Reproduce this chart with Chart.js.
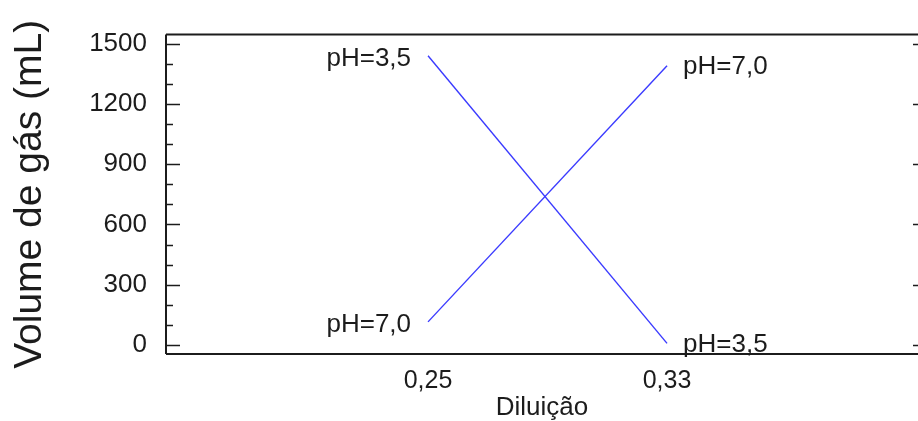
<!DOCTYPE html>
<html>
<head>
<meta charset="utf-8">
<script src="https://cdn.jsdelivr.net/npm/chart.js@4.4.0/dist/chart.umd.min.js"></script>
<style>
  html, body { margin: 0; padding: 0; background: #fff; }
  #wrap { width: 918px; height: 421px; position: relative; }
</style>
</head>
<body>
<div id="wrap"><canvas id="gas"></canvas></div>
<script>
// dilution factor on x, gas volume (mL) on y
const dilutions = [0.25, 0.33]
const volumePH35 = [1440, 8]
const volumePH70 = [115, 1390]
const seriesNames = ['pH=3,5', 'pH=7,0']
const xTicks = [0.25, 0.33]
const yTicks = [0, 300, 600, 900, 1200, 1500]
const yMinorStep = 100

const font = "'Liberation Sans', Arial, sans-serif"
const ink = '#1c1c1c'
const blue = '#3a3aff'

function points(values) {
    return dilutions.map((d, i) => ({ x: d, y: values[i] }))
}

// box, inward ticks and the pH text at both ends of each line
const frame = {
    id: 'frame',
    beforeDatasetsDraw(chart) {
        const { ctx, chartArea: a, scales: { y } } = chart
        ctx.save()
        ctx.strokeStyle = ink
        ctx.lineWidth = 2
        ctx.beginPath()
        ctx.moveTo(a.left, a.top); ctx.lineTo(a.right, a.top)
        ctx.moveTo(a.left, a.top); ctx.lineTo(a.left, a.bottom)
        ctx.moveTo(a.left, a.bottom); ctx.lineTo(a.right, a.bottom)
        ctx.stroke()
        ctx.lineWidth = 1.5
        ctx.beginPath()
        for (let v = 0; v <= 1500; v = v + yMinorStep) {
            const py = Math.round(y.getPixelForValue(v)) + 0.5
            const major = yTicks.includes(v)
            ctx.moveTo(a.left, py)
            ctx.lineTo(a.left + (major ? 14 : 7), py)
            if (major) {
                ctx.moveTo(a.right, py)
                ctx.lineTo(a.right - 5, py)
            }
        }
        ctx.stroke()
        ctx.restore()
    },
    afterDatasetsDraw(chart) {
        const { ctx } = chart
        ctx.save()
        ctx.font = '26px ' + font
        ctx.fillStyle = ink
        ctx.textBaseline = 'middle'
        chart.data.datasets.forEach((ds, i) => {
            const pts = chart.getDatasetMeta(i).data
            const first = pts[0], last = pts[pts.length - 1]
            ctx.textAlign = 'right'
            ctx.fillText(ds.label, first.x - 17, first.y + 3)
            ctx.textAlign = 'left'
            ctx.fillText(ds.label, last.x + 16, last.y + 1)
        })
        ctx.restore()
    }
}

const config = {
    type: 'line',
    data: {
        datasets: [{
            label: seriesNames[0],
            data: points(volumePH35),
            borderColor: blue,
            borderWidth: 1.4,
            pointRadius: 0,
            fill: false
        }, {
            label: seriesNames[1],
            data: points(volumePH70),
            borderColor: blue,
            borderWidth: 1.4,
            pointRadius: 0,
            fill: false
        }]
    },
    options: {
        responsive: true,
        maintainAspectRatio: false,
        animation: false,
        layout: { padding: { top: 33, right: 0, left: 0, bottom: 0 } },
        plugins: { legend: { display: false }, tooltip: { enabled: false } },
        scales: {
            x: {
                type: 'linear',
                min: 0.1623,
                max: 0.414,
                afterBuildTicks: (s) => { s.ticks = xTicks.map(v => ({ value: v })) },
                afterFit: (s) => { s.height = 67 },
                grid: { display: false, drawTicks: false },
                border: { display: false },
                ticks: {
                    padding: 12,
                    color: ink,
                    font: { family: font, size: 25 },
                    callback: (v) => v.toFixed(2).replace('.', ',')
                },
                title: {
                    display: true,
                    text: 'Diluição',
                    color: ink,
                    font: { family: font, size: 26, lineHeight: 1 },
                    padding: { top: 0, bottom: 0 }
                }
            },
            y: {
                min: -45,
                max: 1545,
                afterBuildTicks: (s) => { s.ticks = yTicks.map(v => ({ value: v })) },
                afterFit: (s) => { s.width = 166 },
                grid: { display: false, drawTicks: false },
                border: { display: false },
                ticks: {
                    padding: 19,
                    color: ink,
                    font: { family: font, size: 26 },
                    callback: (v) => String(v)
                },
                title: {
                    display: true,
                    text: 'Volume de gás (mL)',
                    color: ink,
                    font: { family: font, size: 39 },
                    padding: { top: 7, bottom: 0 }
                }
            }
        }
    },
    plugins: [frame]
}

const chart = new Chart(document.getElementById('gas'), config)
</script>
</body>
</html>
